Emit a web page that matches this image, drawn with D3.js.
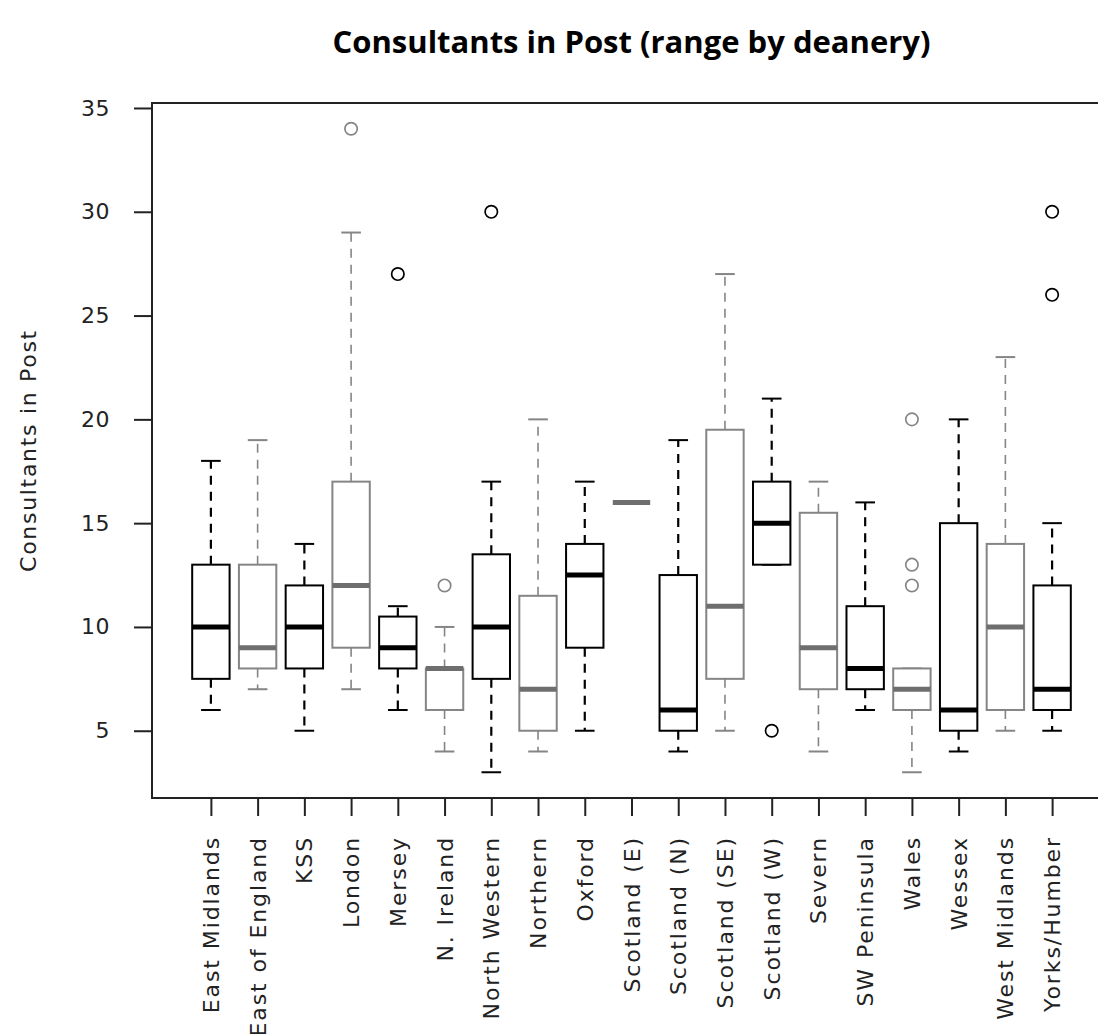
<!DOCTYPE html>
<html><head><meta charset="utf-8">
<script src="https://cdn.jsdelivr.net/npm/d3@7"></script>
<style>body{margin:0;background:#fff;overflow:hidden}</style></head>
<body><svg id="c" width="1098" height="1034"></svg>
<script>
const categories = ["East Midlands","East of England","KSS","London","Mersey","N. Ireland","North Western","Northern","Oxford","Scotland (E)","Scotland (N)","Scotland (SE)","Scotland (W)","Severn","SW Peninsula","Wales","Wessex","West Midlands","Yorks/Humber"];
const lowerWhisker = [6,7,5,7,6,4,3,4,5,16,4,5,13,4,6,3,4,5,5];
const q1 =           [7.5,8,8,9,8,6,7.5,5,9,16,5,7.5,13,7,7,6,5,6,6];
const median =       [10,9,10,12,9,8,10,7,12.5,16,6,11,15,9,8,7,6,10,7];
const q3 =           [13,13,12,17,10.5,8,13.5,11.5,14,16,12.5,19.5,17,15.5,11,8,15,14,12];
const upperWhisker = [18,19,14,29,11,10,17,20,17,16,19,27,21,17,16,8,20,23,15];
const outliers = [[],[],[],[34],[27],[12],[30],[],[],[],[],[],[5],[],[],[20,13,12],[],[],[30,26]];
const yTicks = [5,10,15,20,25,30,35];
const titleText = "Consultants in Post (range by deanery)";
const yLabel = "Consultants in Post";

const svg = d3.select("#c");
const plot = {left:152, right:1111, top:103, bottom:798};

const x = d3.scaleLinear().domain([-0.26, categories.length + 1.26]).range([plot.left, plot.right]);
const y = d3.scaleLinear().domain([1.76, 35.24]).range([plot.bottom, plot.top]);
const unit = x(1) - x(0);
const halfBox = 0.4 * unit;
const halfStaple = 0.21 * unit;

const data = categories.map((c,i)=>({c, i, lo:lowerWhisker[i], q1:q1[i], med:median[i], q3:q3[i], hi:upperWhisker[i], out:outliers[i]}));
const col = i => i % 2 === 0 ? "#000000" : "#858585";
const medCol = i => i % 2 === 0 ? "#000000" : "#6e6e6e";
const FONT = "'DejaVu Sans', sans-serif";

// title
svg.append("text").attr("x", (plot.left+plot.right)/2).attr("y", 53)
  .attr("text-anchor","middle").attr("font-family","'Open Sans', sans-serif")
  .attr("font-weight","bold").attr("font-size",31).attr("fill","#000").text(titleText);

const g = svg.append("g");
const groups = g.selectAll("g.box").data(data).enter().append("g").attr("class","box");

// whiskers
groups.append("line").attr("x1",d=>x(d.i+1)).attr("x2",d=>x(d.i+1))
  .attr("y1",d=>y(d.q3)).attr("y2",d=>y(d.hi))
  .attr("stroke",d=>col(d.i)).attr("stroke-width",d=>d.i%2?1.6:2.2).attr("stroke-dasharray","9,7");
groups.append("line").attr("x1",d=>x(d.i+1)).attr("x2",d=>x(d.i+1))
  .attr("y1",d=>y(d.q1)).attr("y2",d=>y(d.lo))
  .attr("stroke",d=>col(d.i)).attr("stroke-width",d=>d.i%2?1.6:2.2).attr("stroke-dasharray","9,7");
// staples
["hi","lo"].forEach(k=>{
  groups.append("line").attr("x1",d=>x(d.i+1)-halfStaple).attr("x2",d=>x(d.i+1)+halfStaple)
    .attr("y1",d=>y(d[k])).attr("y2",d=>y(d[k]))
    .attr("stroke",d=>col(d.i)).attr("stroke-width",2);
});
// boxes
groups.append("rect").attr("x",d=>x(d.i+1)-halfBox).attr("width",2*halfBox)
  .attr("y",d=>y(d.q3)).attr("height",d=>y(d.q1)-y(d.q3))
  .attr("fill","#fff").attr("stroke",d=>col(d.i)).attr("stroke-width",2);
// medians
groups.append("line").attr("x1",d=>x(d.i+1)-halfBox).attr("x2",d=>x(d.i+1)+halfBox)
  .attr("y1",d=>y(d.med)).attr("y2",d=>y(d.med))
  .attr("stroke",d=>medCol(d.i)).attr("stroke-width",5);
// outliers
groups.selectAll("circle").data(d=>d.out.map(v=>({v,i:d.i}))).enter().append("circle")
  .attr("cx",d=>x(d.i+1)).attr("cy",d=>y(d.v)).attr("r",6.2)
  .attr("fill","none").attr("stroke",d=>col(d.i)).attr("stroke-width",1.7);

// frame
svg.append("rect").attr("x",plot.left).attr("y",plot.top)
  .attr("width",plot.right-plot.left).attr("height",plot.bottom-plot.top)
  .attr("fill","none").attr("stroke","#222").attr("stroke-width",2);

// y axis
const yAxis = d3.axisLeft(y).tickValues(yTicks).tickSize(18).tickPadding(24).tickFormat(d3.format("d"));
const ya = svg.append("g").attr("transform",`translate(${plot.left},0)`).call(yAxis);
ya.select(".domain").remove();
ya.selectAll(".tick line").attr("stroke","#222").attr("stroke-width",2);
ya.selectAll(".tick text").attr("font-family",FONT).attr("font-size",22)
  .attr("fill","#222").style("letter-spacing","0.5px");

// x axis
const xAxis = d3.axisBottom(x).tickValues(d3.range(1, categories.length+1)).tickSize(18).tickFormat(d=>categories[d-1]);
const xa = svg.append("g").attr("transform",`translate(0,${plot.bottom})`).call(xAxis);
xa.select(".domain").remove();
xa.selectAll(".tick line").attr("stroke","#222").attr("stroke-width",2);
xa.selectAll(".tick text").attr("font-family",FONT).attr("font-size",22)
  .attr("fill","#222").style("letter-spacing","1.9px")
  .attr("text-anchor","end").attr("dominant-baseline","central")
  .attr("transform","translate(0,38) rotate(-90)").attr("x",0).attr("y",0).attr("dy",null);

// y label
svg.append("text").attr("transform",`translate(36,${(plot.top+plot.bottom)/2}) rotate(-90)`)
  .attr("text-anchor","middle").attr("font-family",FONT).attr("font-size",22)
  .attr("fill","#222").style("letter-spacing","1.7px").text(yLabel);
</script></body></html>
